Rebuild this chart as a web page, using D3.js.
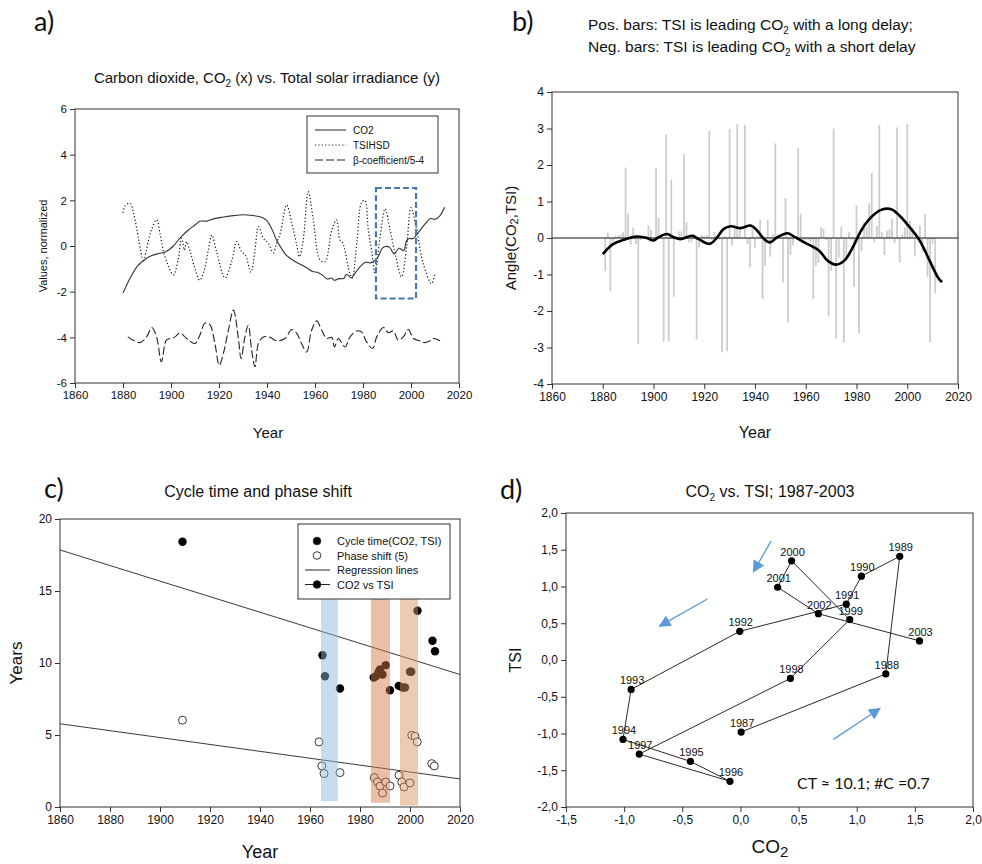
<!DOCTYPE html>
<html>
<head>
<meta charset="utf-8">
<script src="https://cdn.jsdelivr.net/npm/d3@7"></script>
<style>
  body { margin: 0; background: #fff; }
  text { font-family: "Liberation Sans", Arial, sans-serif; fill: #111; }
</style>
</head>
<body>
<svg id="chart"></svg>
<script>
// ---- panel a: normalized series [year, value]
var co2Series = [[1880,-2.06],[1883,-1.4],[1886,-0.88],[1889,-0.6],[1892,-0.42],[1895,-0.33],[1898,-0.24],[1901,0.0],[1904,0.38],[1907,0.68],[1910,0.92],[1912,1.08],[1915,1.09],[1918,1.2],[1922,1.27],[1926,1.33],[1930,1.37],[1933,1.35],[1936,1.3],[1938,1.25],[1940,1.1],[1942,0.75],[1944,0.25],[1946,-0.1],[1948,-0.4],[1952,-0.7],[1956,-0.92],[1959,-1.12],[1961,-1.15],[1963,-1.27],[1965,-1.44],[1967,-1.4],[1968,-1.5],[1970,-1.43],[1972,-1.42],[1973,-1.25],[1974,-1.3],[1975,-1.4],[1977,-1.14],[1979,-0.88],[1981,-0.71],[1983,-0.74],[1984,-0.7],[1986,-0.52],[1988,-0.1],[1989,-0.03],[1991,-0.05],[1993,-0.35],[1995,-0.1],[1997,-0.2],[1998,0.2],[1999,0.32],[2001,0.33],[2002,0.45],[2004,0.72],[2006,0.98],[2008,1.2],[2010,1.17],[2012,1.32],[2014,1.7]];
var tsiSeries = [[1880,1.45],[1881,1.78],[1883,1.87],[1884.5,1.4],[1886.5,0.3],[1888.5,-0.62],[1890.5,0.2],[1892,0.75],[1894,1.15],[1895.5,0.5],[1897,-0.3],[1899,-0.9],[1901,-1.27],[1903,-0.6],[1904.4,0.34],[1905.6,-0.18],[1906.5,0.19],[1908,-0.25],[1910,-1.0],[1912,-1.5],[1914,-1.0],[1915.5,-0.2],[1917,0.48],[1919,-0.25],[1922.5,-1.4],[1925.3,-0.67],[1927.4,0.19],[1929.4,-0.25],[1931,-0.4],[1933.3,-1.15],[1935,-0.18],[1936.4,0.85],[1938.5,0.34],[1940.6,0.12],[1942.6,-0.3],[1944,0.12],[1945.5,0.55],[1948.2,1.8],[1950.3,1.0],[1952.4,0.04],[1953.5,-0.47],[1955.1,0.26],[1957.2,2.38],[1959.3,1.14],[1962.1,-0.61],[1964.2,-0.69],[1967,0.7],[1969,1.14],[1970.4,0.26],[1971.5,0.15],[1974.5,-1.2],[1975.5,-1.4],[1977.5,0.2],[1979.4,1.9],[1980.8,2.0],[1982.2,0.7],[1983.6,-0.2],[1985,-1.2],[1987,0.3],[1989.2,1.63],[1991.3,0.7],[1993.5,-0.4],[1996.1,-1.35],[1998.2,0.0],[2000,1.68],[2002.4,0.7],[2005.1,-0.77],[2008.6,-1.65],[2010,-1.2]];
var betaSeries = [[1882,-3.98],[1887,-4.23],[1890,-3.95],[1892,-3.57],[1894,-3.98],[1896,-5.07],[1898,-4.13],[1899.6,-4.05],[1901.7,-3.98],[1903.7,-3.8],[1906.5,-4.05],[1910,-4.27],[1912,-3.91],[1914.2,-3.37],[1916.2,-3.44],[1918.3,-4.27],[1920.1,-5.22],[1921.8,-4.71],[1923.9,-3.69],[1926,-2.81],[1928,-3.98],[1929.2,-4.93],[1930.8,-3.98],[1932.2,-3.47],[1933.6,-4.56],[1935,-5.29],[1936.4,-4.27],[1938.5,-3.98],[1941.2,-4.0],[1944,-4.15],[1947.5,-4.05],[1950.3,-3.66],[1952.4,-3.83],[1954.4,-4.27],[1956.5,-4.64],[1958.6,-3.69],[1960.7,-3.28],[1962.8,-3.69],[1964.9,-4.05],[1967,-4.0],[1968.1,-4.42],[1969.7,-4.05],[1972.5,-4.42],[1974.6,-3.98],[1977.4,-3.72],[1979.4,-3.76],[1981.5,-4.2],[1984,-4.49],[1985.7,-3.98],[1988.5,-3.57],[1990.6,-3.8],[1992.6,-3.72],[1994.7,-4.13],[1996.8,-3.98],[1998.9,-3.66],[2001,-4.05],[2003.7,-4.15],[2005.8,-4.23],[2007.9,-4.15],[2009.3,-4.05],[2012.1,-4.15]];
var zoomWindowA = { years: [1985.4, 2002.1], values: [-2.3, 2.54] };
var legendA = ["CO2", "TSIHSD", "\u03b2-coefficient/5-4"];

// ---- panel b: yearly angle bars and smoothed curve
var angleFirstYear = 1881;
var angleBars = [-0.91,0.14,-1.46,-0.1,0.05,0.06,0.1,0.16,1.93,0.66,-0.18,0.29,-0.16,-2.9,-0.05,0.03,0.05,0.34,0.23,-0.07,1.92,0.55,0.05,-2.84,2.83,-2.84,1.6,-1.61,0.05,0.18,0.18,2.3,0.43,-0.12,-0.12,0.11,-2.78,-0.26,0.08,0.05,0.08,2.94,-0.05,0.16,0.03,-0.05,-3.13,0.05,-3.1,2.98,-0.21,0.29,3.12,0.25,-0.03,3.1,-0.16,-0.8,0.29,-0.26,0.05,0.49,-1.67,-0.76,0.49,-0.51,0.1,2.59,0.1,0.05,-1.21,1.09,-2.31,-0.46,-0.21,0.05,2.46,0.66,-0.14,-0.05,-0.05,-0.1,-1.67,-0.76,-0.69,0.29,0.25,-0.05,-2.15,-0.89,3.0,-2.76,-0.53,0.31,-2.86,-0.6,0.16,-0.05,-1.33,0.89,-2.61,-0.36,0.43,0.29,0.95,1.78,-0.12,0.34,3.1,0.16,-0.46,0.2,0.25,0.52,-0.14,3.03,-0.67,0.09,0.29,3.12,0.47,0.29,-0.5,0.05,0.34,-0.39,0.66,-1.06,-2.86,-0.15,-1.51];
var angleSmooth = [[1880,-0.44],[1884.2,-0.16],[1888.2,-0.05],[1893.5,0.04],[1897.4,0.0],[1900,-0.07],[1902,0.02],[1905.3,0.11],[1908,0.02],[1910.6,-0.03],[1915.2,0.06],[1917.8,-0.03],[1922.2,-0.16],[1925.1,0.02],[1927.7,0.25],[1930.4,0.32],[1934.3,0.27],[1938.3,0.34],[1940.9,0.2],[1943.6,-0.03],[1945.9,-0.12],[1948.8,0.02],[1952.8,0.13],[1955.4,0.04],[1959.4,-0.12],[1965.3,-0.35],[1968.6,-0.62],[1971.9,-0.73],[1975.2,-0.62],[1978.5,-0.26],[1981.8,0.2],[1985.8,0.57],[1989.7,0.77],[1993.7,0.79],[1997,0.61],[2001,0.29],[2004.9,-0.07],[2008.8,-0.62],[2012.1,-1.08],[2013.7,-1.21]];

// ---- panel c: cycle time, phase shift, regression lines, highlighted periods
var cycleTime = [[1909,18.42],[1965,10.54],[1966,9.08],[1972,8.23],[1985.5,8.99],[1986.5,9.1],[1987.5,9.4],[1988,9.55],[1989,9.2],[1990.3,9.85],[1992,8.11],[1995.5,8.41],[1997,8.3],[1998,8.3],[2000,9.39],[2000.5,9.39],[2003,13.63],[2009,11.54],[2010,10.82]];
var phaseShift = [[1909,6.03],[1963.6,4.52],[1964.7,2.85],[1965.6,2.32],[1972,2.39],[1985.7,2.04],[1987,1.74],[1988,1.44],[1989,0.97],[1990.3,1.74],[1992,1.46],[1995.6,2.2],[1996.7,1.74],[1997.6,1.39],[2000,1.67],[2000.7,4.98],[2002,4.91],[2002.9,4.52],[2008.7,3.01],[2009.7,2.85]];
var regCycle = [[1860,17.85],[2020,9.2]];
var regPhase = [[1860,5.78],[2020,1.95]];
var periodsC = [[1964.4,1971.1,0.4,14.5],[1984.4,1992,0.3,14.5],[1996,2003.2,0.1,14.5]];
var legendC = ["Cycle time(CO2, TSI)", "Phase shift (5)", "Regression lines", "CO2 vs TSI"];

// ---- panel d: CO2 vs TSI loop 1987-2003
var loopYears = [1987,1988,1989,1990,1991,1992,1993,1994,1995,1996,1997,1998,1999,2000,2001,2002,2003];
var loopCO2 = [0.006,1.25,1.37,1.04,0.91,-0.006,-0.94,-1.01,-0.43,-0.09,-0.87,0.43,0.94,0.44,0.32,0.67,1.54];
var loopTSI = [-0.98,-0.19,1.41,1.14,0.76,0.39,-0.40,-1.08,-1.38,-1.65,-1.28,-0.25,0.55,1.35,0.99,0.63,0.26];
var loopArrows = [[[0.264,1.62],[0.112,1.20]],[[-0.284,0.83],[-0.696,0.46]],[[0.80,-1.08],[1.20,-0.66]]];

var svg = d3.select("#chart").attr("width", 982).attr("height", 864);

function styleAxis(g, size) {
  g.select(".domain").remove();
  g.selectAll(".tick line").attr("stroke", "#333");
  g.selectAll(".tick text").style("font-size", size + "px").attr("fill", "#111");
}
function frame(x, y) {
  svg.append("rect")
    .attr("x", x.range()[0]).attr("y", y.range()[1])
    .attr("width", x.range()[1] - x.range()[0]).attr("height", y.range()[0] - y.range()[1])
    .attr("fill", "none").attr("stroke", "#333").attr("stroke-width", 1);
}
//text with a subscript "2": parts = [[txt, sub?], ...]
function richText(sel, parts, subSize) {
  parts.forEach(function (p) {
    var t = sel.append("tspan").text(p[0]);
    if (p[1]) t.attr("dy", 4).style("font-size", subSize + "px");
    else if (sel.selectAll("tspan").size() > 1) t.attr("dy", -4);
  });
  return sel;
}
function panelLabel(x, y, s) {
  svg.append("text").attr("x", x).attr("y", y).text(s)
    .style("font-family", "Lato, 'Open Sans', sans-serif").style("font-size", "27px");
}
function yTitle(x, y, size) {
  return svg.append("text").attr("transform", "translate(" + x + "," + y + ") rotate(-90)")
    .attr("text-anchor", "middle").attr("dominant-baseline", "central").style("font-size", size + "px");
}
var intFmt = function (d) { return String(d); };
var commaFmt = function (d) { return d.toFixed(1).replace(".", ","); };

// ================= panel a =================
var xa = d3.scaleLinear().domain([1860, 2020]).range([75, 459]);
var ya = d3.scaleLinear().domain([-6, 6]).range([383, 109]);
svg.append("g").attr("transform", "translate(0,383)")
  .call(d3.axisBottom(xa).tickValues(d3.range(1860, 2021, 20)).tickFormat(intFmt).tickSize(5).tickSizeOuter(0))
  .call(styleAxis, 11.5);
svg.append("g").attr("transform", "translate(75,0)")
  .call(d3.axisLeft(ya).tickValues(d3.range(-6, 7, 2)).tickFormat(intFmt).tickSize(5).tickSizeOuter(0))
  .call(styleAxis, 11.5);
frame(xa, ya);
var lineA = d3.line().x(function (d) { return xa(d[0]); }).y(function (d) { return ya(d[1]); });
svg.append("path").datum(co2Series).attr("d", lineA.curve(d3.curveCatmullRom))
  .attr("fill", "none").attr("stroke", "#333").attr("stroke-width", 1.1);
svg.append("path").datum(tsiSeries).attr("d", lineA.curve(d3.curveCatmullRom))
  .attr("fill", "none").attr("stroke", "#111").attr("stroke-width", 1.2).attr("stroke-dasharray", "1.2,2.2");
svg.append("path").datum(betaSeries).attr("d", lineA.curve(d3.curveCatmullRom))
  .attr("fill", "none").attr("stroke", "#222").attr("stroke-width", 1.1).attr("stroke-dasharray", "8,3");
svg.append("rect")
  .attr("x", xa(zoomWindowA.years[0])).attr("y", ya(zoomWindowA.values[1]))
  .attr("width", xa(zoomWindowA.years[1]) - xa(zoomWindowA.years[0]))
  .attr("height", ya(zoomWindowA.values[0]) - ya(zoomWindowA.values[1]))
  .attr("fill", "none").attr("stroke", "#4a78ad").attr("stroke-width", 2.2).attr("stroke-dasharray", "6,3");
// legend
svg.append("rect").attr("x", 307).attr("y", 116).attr("width", 131).attr("height", 57)
  .attr("fill", "#fff").attr("stroke", "#333");
var dashesA = [null, "1.2,2.2", "8,3"];
legendA.forEach(function (s, i) {
  var yy = 130 + i * 15;
  svg.append("line").attr("x1", 315).attr("x2", 346).attr("y1", yy).attr("y2", yy)
    .attr("stroke", "#222").attr("stroke-width", 1).attr("stroke-dasharray", dashesA[i]);
  svg.append("text").attr("x", 353).attr("y", yy + 4).text(s).style("font-size", "10px");
});
panelLabel(34, 31, "a)");
richText(svg.append("text").attr("x", 267).attr("y", 83).attr("text-anchor", "middle").style("font-size", "15px"),
  [["Carbon dioxide, CO", false], ["2", true], [" (x) vs. Total solar irradiance (y)", false]], 10);
yTitle(43, 246, 11).text("Values, normalized");
svg.append("text").attr("x", 268).attr("y", 438).attr("text-anchor", "middle").style("font-size", "15px").text("Year");

// ================= panel b =================
var xb = d3.scaleLinear().domain([1860, 2020]).range([552, 958]);
var yb = d3.scaleLinear().domain([-4, 4]).range([384, 92]);
svg.append("g").attr("transform", "translate(0,384)")
  .call(d3.axisBottom(xb).tickValues(d3.range(1860, 2021, 20)).tickFormat(intFmt).tickSize(5).tickSizeOuter(0))
  .call(styleAxis, 12);
svg.append("g").attr("transform", "translate(552,0)")
  .call(d3.axisLeft(yb).tickValues(d3.range(-4, 5, 1)).tickFormat(intFmt).tickSize(5).tickSizeOuter(0))
  .call(styleAxis, 12);
svg.append("g").selectAll("rect").data(angleBars).enter().append("rect")
  .attr("x", function (d, i) { return xb(angleFirstYear + i) - 0.9; })
  .attr("width", 1.8)
  .attr("y", function (d) { return yb(Math.max(0, d)); })
  .attr("height", function (d) { return Math.abs(yb(d) - yb(0)); })
  .attr("fill", "#cdcdcd");
svg.append("line").attr("x1", 552).attr("x2", 958).attr("y1", yb(0)).attr("y2", yb(0))
  .attr("stroke", "#111").attr("stroke-width", 1);
svg.append("path").datum(angleSmooth)
  .attr("d", d3.line().x(function (d) { return xb(d[0]); }).y(function (d) { return yb(d[1]); }).curve(d3.curveCatmullRom))
  .attr("fill", "none").attr("stroke", "#000").attr("stroke-width", 2.6);
frame(xb, yb);
panelLabel(512, 31, "b)");
richText(svg.append("text").attr("x", 588).attr("y", 30).style("font-size", "15.5px"),
  [["Pos. bars: TSI is  leading CO", false], ["2", true], [" with a long delay;", false]], 10);
richText(svg.append("text").attr("x", 588).attr("y", 52).style("font-size", "15.5px"),
  [["Neg. bars: TSI is leading CO", false], ["2", true], [" with a short delay", false]], 10);
richText(yTitle(510, 238, 15), [["Angle(CO", false], ["2", true], [",TSI)", false]], 11);
svg.append("text").attr("x", 755).attr("y", 438).attr("text-anchor", "middle").style("font-size", "16px").text("Year");

// ================= panel c =================
var xc = d3.scaleLinear().domain([1860, 2020]).range([60, 460]);
var yc = d3.scaleLinear().domain([0, 20]).range([807, 519]);
svg.append("g").attr("transform", "translate(0,807)")
  .call(d3.axisBottom(xc).tickValues(d3.range(1860, 2021, 20)).tickFormat(intFmt).tickSize(5).tickSizeOuter(0))
  .call(styleAxis, 12);
svg.append("g").attr("transform", "translate(60,0)")
  .call(d3.axisLeft(yc).tickValues(d3.range(0, 21, 5)).tickFormat(intFmt).tickSize(5).tickSizeOuter(0))
  .call(styleAxis, 12);
var lineC = d3.line().x(function (d) { return xc(d[0]); }).y(function (d) { return yc(d[1]); });
[regCycle, regPhase].forEach(function (r) {
  svg.append("path").datum(r).attr("d", lineC).attr("stroke", "#222").attr("stroke-width", 0.9).attr("fill", "none");
});
svg.append("g").selectAll("circle").data(phaseShift).enter().append("circle")
  .attr("cx", function (d) { return xc(d[0]); }).attr("cy", function (d) { return yc(d[1]); })
  .attr("r", 4).attr("fill", "#fff").attr("stroke", "#222").attr("stroke-width", 0.9);
svg.append("g").selectAll("circle").data(cycleTime).enter().append("circle")
  .attr("cx", function (d) { return xc(d[0]); }).attr("cy", function (d) { return yc(d[1]); })
  .attr("r", 4.2).attr("fill", "#000");
var bandColors = ["#8ab6de", "#d27a45", "#d8925f"];
svg.append("g").selectAll("rect").data(periodsC).enter().append("rect")
  .attr("x", function (d) { return xc(d[0]); }).attr("y", function (d) { return yc(d[3]); })
  .attr("width", function (d) { return xc(d[1]) - xc(d[0]); })
  .attr("height", function (d) { return yc(d[2]) - yc(d[3]); })
  .attr("fill", function (d, i) { return bandColors[i]; }).attr("opacity", 0.48);
frame(xc, yc);
svg.append("rect").attr("x", 298).attr("y", 524).attr("width", 152).attr("height", 75)
  .attr("fill", "#fff").attr("stroke", "#333");
legendC.forEach(function (s, i) {
  var yy = 541 + i * 14.5;
  if (i >= 2) svg.append("line").attr("x1", 305).attr("x2", 330).attr("y1", yy).attr("y2", yy).attr("stroke", "#222");
  if (i !== 2) svg.append("circle").attr("cx", 317).attr("cy", yy).attr("r", 3.8)
    .attr("fill", i === 1 ? "#fff" : "#000").attr("stroke", "#222").attr("stroke-width", 0.9);
  svg.append("text").attr("x", 337).attr("y", yy + 4).text(s).style("font-size", "11px");
});
panelLabel(44, 498, "c)");
svg.append("text").attr("x", 258).attr("y", 497).attr("text-anchor", "middle").style("font-size", "16px").text("Cycle time and phase shift");
yTitle(16, 663, 17).text("Years");
svg.append("text").attr("x", 260).attr("y", 858).attr("text-anchor", "middle").style("font-size", "18px").text("Year");

// ================= panel d =================
var xd = d3.scaleLinear().domain([-1.5, 2.0]).range([566, 973]);
var yd = d3.scaleLinear().domain([-2, 2]).range([807, 513]);
svg.append("g").attr("transform", "translate(0,807)")
  .call(d3.axisBottom(xd).tickValues(d3.range(-1.5, 2.01, 0.5)).tickFormat(commaFmt).tickSize(5).tickSizeOuter(0))
  .call(styleAxis, 12);
svg.append("g").attr("transform", "translate(566,0)")
  .call(d3.axisLeft(yd).tickValues(d3.range(-2, 2.01, 0.5)).tickFormat(commaFmt).tickSize(5).tickSizeOuter(0))
  .call(styleAxis, 12);
frame(xd, yd);
var loopPts = loopYears.map(function (y, i) { return [loopCO2[i], loopTSI[i], y]; });
svg.append("path").datum(loopPts)
  .attr("d", d3.line().x(function (d) { return xd(d[0]); }).y(function (d) { return yd(d[1]); }))
  .attr("fill", "none").attr("stroke", "#111").attr("stroke-width", 0.9);
svg.append("g").selectAll("circle").data(loopPts).enter().append("circle")
  .attr("cx", function (d) { return xd(d[0]); }).attr("cy", function (d) { return yd(d[1]); })
  .attr("r", 3.6).attr("fill", "#000");
svg.append("g").selectAll("text").data(loopPts).enter().append("text")
  .attr("x", function (d) { return xd(d[0]) + 1; }).attr("y", function (d) { return yd(d[1]) - 5; })
  .attr("text-anchor", "middle").style("font-size", "11px").text(function (d) { return d[2]; });
svg.append("defs").append("marker").attr("id", "arrowHead")
  .attr("viewBox", "0 0 10 10").attr("refX", 9).attr("refY", 5)
  .attr("markerUnits", "userSpaceOnUse").attr("markerWidth", 13).attr("markerHeight", 12)
  .attr("orient", "auto")
  .append("path").attr("d", "M0,0 L10,5 L0,10 Z").attr("fill", "#5b9bd5");
loopArrows.forEach(function (a) {
  svg.append("line")
    .attr("x1", xd(a[0][0])).attr("y1", yd(a[0][1])).attr("x2", xd(a[1][0])).attr("y2", yd(a[1][1]))
    .attr("stroke", "#5b9bd5").attr("stroke-width", 1.3).attr("marker-end", "url(#arrowHead)");
});
svg.append("text").attr("x", 797).attr("y", 789).style("font-family", "Lato, 'Open Sans', sans-serif")
  .style("font-size", "16px").text("CT \u2248 10.1; #C =0.7");
panelLabel(500, 499, "d)");
richText(svg.append("text").attr("x", 770).attr("y", 497).attr("text-anchor", "middle").style("font-size", "16px"),
  [["CO", false], ["2", true], [" vs. TSI; 1987-2003", false]], 10);
yTitle(515, 660, 16).text("TSI");
richText(svg.append("text").attr("x", 770).attr("y", 853).attr("text-anchor", "middle").style("font-size", "19px"),
  [["CO", false], ["2", true]], 15);
</script>
</body>
</html>
